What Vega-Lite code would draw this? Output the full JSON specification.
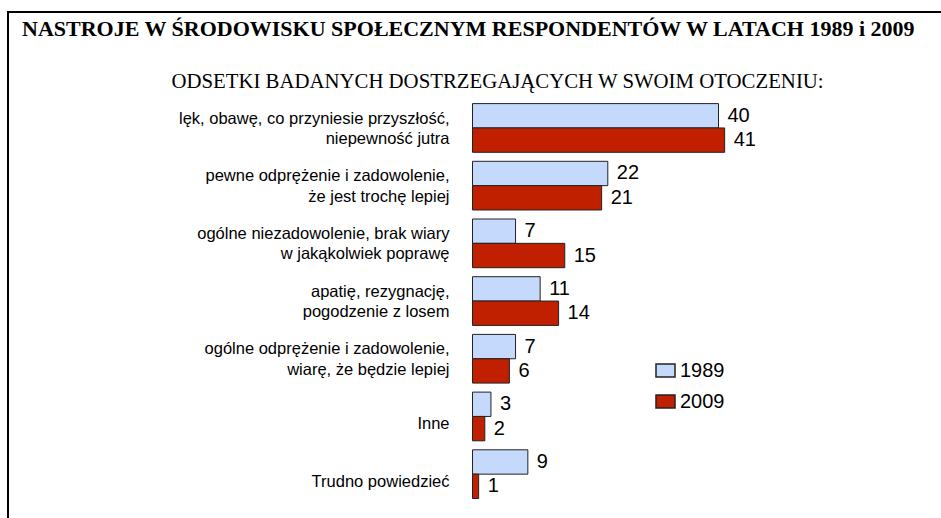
{
  "$schema": "https://vega.github.io/schema/vega-lite/v6.json",
  "autosize": "none",
  "width": 933,
  "height": 506,
  "padding": {"left": 8, "top": 12, "right": 0, "bottom": 0},
  "background": "white",
  "title": {
    "text": "NASTROJE W ŚRODOWISKU SPOŁECZNYM RESPONDENTÓW W LATACH 1989 i 2009",
    "anchor": "start",
    "frame": "group",
    "font": "Liberation Serif",
    "fontSize": 22,
    "fontWeight": "bold",
    "color": "black",
    "offset": 0,
    "baseline": "alphabetic",
    "dx": 14,
    "dy": 46
  },
  "data": {
    "values": [
      {"kategoria": "lęk, obawę, co przyniesie przyszłość,\nniepewność jutra", "rok": "1989", "odsetek": 40},
      {"kategoria": "lęk, obawę, co przyniesie przyszłość,\nniepewność jutra", "rok": "2009", "odsetek": 41},
      {"kategoria": "pewne odprężenie i zadowolenie,\nże jest trochę lepiej", "rok": "1989", "odsetek": 22},
      {"kategoria": "pewne odprężenie i zadowolenie,\nże jest trochę lepiej", "rok": "2009", "odsetek": 21},
      {"kategoria": "ogólne niezadowolenie, brak wiary\nw jakąkolwiek poprawę", "rok": "1989", "odsetek": 7},
      {"kategoria": "ogólne niezadowolenie, brak wiary\nw jakąkolwiek poprawę", "rok": "2009", "odsetek": 15},
      {"kategoria": "apatię, rezygnację,\npogodzenie z losem", "rok": "1989", "odsetek": 11},
      {"kategoria": "apatię, rezygnację,\npogodzenie z losem", "rok": "2009", "odsetek": 14},
      {"kategoria": "ogólne odprężenie i zadowolenie,\nwiarę, że będzie lepiej", "rok": "1989", "odsetek": 7},
      {"kategoria": "ogólne odprężenie i zadowolenie,\nwiarę, że będzie lepiej", "rok": "2009", "odsetek": 6},
      {"kategoria": "Inne", "rok": "1989", "odsetek": 3},
      {"kategoria": "Inne", "rok": "2009", "odsetek": 2},
      {"kategoria": "Trudno powiedzieć", "rok": "1989", "odsetek": 9},
      {"kategoria": "Trudno powiedzieć", "rok": "2009", "odsetek": 1}
    ]
  },
  "encoding": {
    "y": {
      "field": "kategoria",
      "type": "nominal",
      "sort": null,
      "scale": {"range": [87.1, 491], "paddingInner": 0.156, "paddingOuter": 0.078},
      "axis": {
        "title": null,
        "domain": false,
        "ticks": false,
        "tickSize": 0,
        "grid": false,
        "offset": -441,
        "labelPadding": 0,
        "labelExpr": "split(datum.label, '\\n')",
        "labelFont": "Liberation Sans",
        "labelFontSize": 16.5,
        "labelColor": "black",
        "labelLineHeight": 20.3,
        "labelLimit": 500,
        "labelOffset": {"condition": {"test": "indexof(datum.value, '\\n') >= 0", "value": -9.3}, "value": 8}
      }
    },
    "yOffset": {"field": "rok", "type": "nominal", "sort": ["1989", "2009"]},
    "x": {
      "field": "odsetek",
      "type": "quantitative",
      "scale": {"domain": [0, 40], "range": [464.5, 710.5], "nice": false, "zero": false},
      "axis": {
        "orient": "top",
        "domain": false,
        "ticks": false,
        "labels": false,
        "grid": false,
        "title": "ODSETKI BADANYCH DOSTRZEGAJĄCYCH W SWOIM OTOCZENIU:",
        "titleFont": "Liberation Serif",
        "titleFontSize": 20.8,
        "titleFontWeight": "normal",
        "titleColor": "black",
        "titleX": 489,
        "titleY": 75,
        "titleAlign": "center",
        "titleBaseline": "alphabetic"
      }
    }
  },
  "layer": [
    {
      "mark": {"type": "bar", "stroke": "#222222", "strokeWidth": 1},
      "encoding": {
        "color": {
          "field": "rok",
          "type": "nominal",
          "scale": {"domain": ["1989", "2009"], "range": ["#C5D9FD", "#C02000"]},
          "legend": {
            "orient": "none",
            "legendX": 647,
            "legendY": 348,
            "title": null,
            "padding": 0,
            "symbolType": "M-1,-0.684L1,-0.684L1,0.684L-1,0.684Z",
            "symbolSize": 361,
            "labelFont": "Liberation Sans",
            "labelFontSize": 20,
            "labelColor": "black",
            "labelOffset": 4,
            "rowPadding": 10,
            "encode": {"symbols": {"update": {"stroke": {"value": "#222222"}, "strokeWidth": {"value": 1}}}}
          }
        }
      }
    },
    {
      "mark": {"type": "text", "align": "left", "baseline": "middle", "dx": 9, "font": "Liberation Sans", "fontSize": 20, "fill": "black"},
      "encoding": {"text": {"field": "odsetek", "type": "quantitative"}}
    }
  ],
  "config": {
    "view": {"stroke": "black", "strokeWidth": 2, "strokeDash": [933, 1439, 506]}
  }
}
